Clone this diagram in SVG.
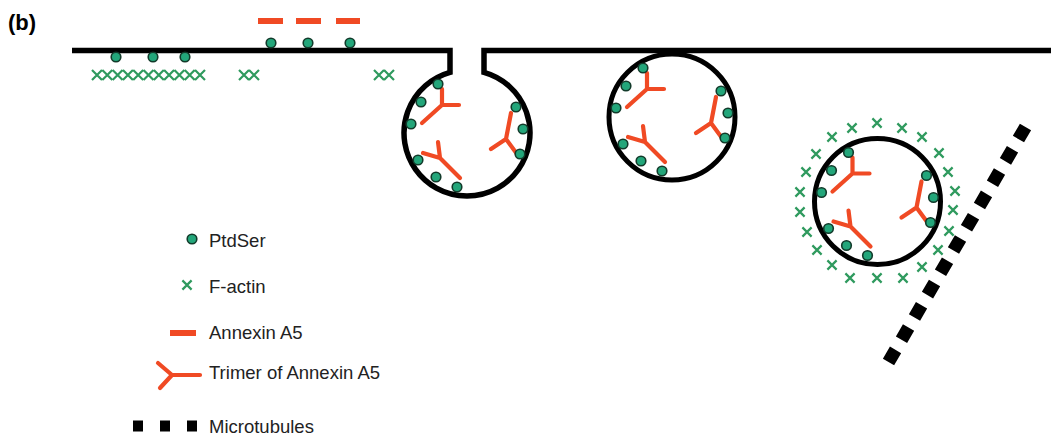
<svg xmlns="http://www.w3.org/2000/svg" xmlns:xlink="http://www.w3.org/1999/xlink" width="1051" height="437" viewBox="0 0 1051 437">
  <style>
    .membrane { fill: none; stroke: #000; stroke-width: 5.5; stroke-linejoin: miter; }
    .vesicle { fill: none; stroke: #000; stroke-width: 5; }
    .ptdser { fill: #23a67a; stroke: #123a2a; stroke-width: 1.6; }
    .actin { fill: none; stroke: #2f9a5e; stroke-width: 2.2; }
    .anx { stroke: #f04a24; stroke-width: 6; fill: none; }
    .trimer { fill: none; stroke: #f04a24; stroke-width: 4.2; stroke-linecap: round; stroke-linejoin: round; }
    .mt { fill: none; stroke: #000; stroke-width: 13; stroke-dasharray: 14 11.8; }
    .label { font-family: "Liberation Sans", Arial, sans-serif; font-size: 18.5px; fill: #222; }
    .panel { font-family: "Liberation Sans", Arial, sans-serif; font-size: 22px; font-weight: bold; fill: #000; }
  </style>
  <defs>
    <path id="x-small" class="actin" d="M-4.6,-4.6 L4.6,4.6 M-4.6,4.6 L4.6,-4.6"/>
    <path id="x-chain" class="actin" d="M-5,-5 L5,5 M-5,5 L5,-5"/>
    <!-- PtdSer on the inner leaflet and bound annexin trimers, relative to vesicle centre -->
    <g id="cargo">
      <g class="trimer">
        <path d="M-25,-44 L-25,-28 L-8,-28 M-25,-28 L-45,-10"/>
        <path d="M-29,9 L-27,25 L-44,20 M-27,25 L-7,45"/>
        <path d="M50,21 L39,6 L24,16 M39,6 L44,-20"/>
      </g>
      <circle class="ptdser" cx="-29" cy="-49" r="4.8"/>
      <circle class="ptdser" cx="-46" cy="-31" r="4.8"/>
      <circle class="ptdser" cx="-56" cy="-9" r="4.8"/>
      <circle class="ptdser" cx="-49" cy="27" r="4.8"/>
      <circle class="ptdser" cx="-31" cy="44" r="4.8"/>
      <circle class="ptdser" cx="-10" cy="54" r="4.8"/>
      <circle class="ptdser" cx="49" cy="-26" r="4.8"/>
      <circle class="ptdser" cx="56" cy="-4" r="4.8"/>
      <circle class="ptdser" cx="53" cy="21" r="4.8"/>
    </g>
  </defs>

  <rect width="1051" height="437" fill="#fff"/>

  <text class="panel" x="8" y="30">(b)</text>

  <!-- plasma membrane with the fusing vesicle opening -->
  <g id="plasma-membrane">
    <path class="membrane" d="M72,50.5 H450 V72.3 A63,63 0 1 0 484,72.3 V50.5 H1051"/>
    <circle class="ptdser" cx="271" cy="43" r="4.8"/>
    <circle class="ptdser" cx="308" cy="43" r="4.8"/>
    <circle class="ptdser" cx="350" cy="43" r="4.8"/>
    <circle class="ptdser" cx="116" cy="57" r="4.8"/>
    <circle class="ptdser" cx="153" cy="57" r="4.8"/>
    <circle class="ptdser" cx="185" cy="57" r="4.8"/>
    <line class="anx" x1="258" y1="21" x2="283" y2="21"/>
    <line class="anx" x1="296" y1="21" x2="321" y2="21"/>
    <line class="anx" x1="336" y1="21" x2="360" y2="21"/>
  </g>

  <!-- cortical actin under the membrane -->
  <g id="cortical-actin">
    <use href="#x-chain" x="97" y="75"/>
    <use href="#x-chain" x="107.3" y="75"/>
    <use href="#x-chain" x="117.6" y="75"/>
    <use href="#x-chain" x="127.9" y="75"/>
    <use href="#x-chain" x="138.2" y="75"/>
    <use href="#x-chain" x="148.5" y="75"/>
    <use href="#x-chain" x="158.8" y="75"/>
    <use href="#x-chain" x="169.1" y="75"/>
    <use href="#x-chain" x="179.4" y="75"/>
    <use href="#x-chain" x="189.7" y="75"/>
    <use href="#x-chain" x="200" y="75"/>
    <use href="#x-chain" x="244" y="75"/>
    <use href="#x-chain" x="254" y="75"/>
    <use href="#x-chain" x="379" y="75"/>
    <use href="#x-chain" x="389" y="75"/>
  </g>

  <!-- vesicle fusing with the membrane -->
  <g id="vesicle-fusing">
    <use href="#cargo" transform="translate(467,133)"/>
  </g>

  <!-- vesicle docked under the membrane -->
  <g id="vesicle-docked">
    <circle class="vesicle" cx="672" cy="117" r="63"/>
    <use href="#cargo" transform="translate(672,117)"/>
  </g>

  <!-- vesicle caged by actin -->
  <g id="vesicle-caged">
    <circle class="vesicle" cx="877.5" cy="201.5" r="63"/>
    <use href="#cargo" transform="translate(877.5,201.5)"/>
    <g>
      <use href="#x-small" x="877" y="123"/>
      <use href="#x-small" x="902" y="128"/>
      <use href="#x-small" x="922" y="137"/>
      <use href="#x-small" x="939" y="153"/>
      <use href="#x-small" x="948" y="172"/>
      <use href="#x-small" x="955" y="191"/>
      <use href="#x-small" x="953" y="210"/>
      <use href="#x-small" x="949" y="231"/>
      <use href="#x-small" x="938" y="250"/>
      <use href="#x-small" x="922" y="267"/>
      <use href="#x-small" x="903" y="278"/>
      <use href="#x-small" x="877" y="278"/>
      <use href="#x-small" x="850" y="278"/>
      <use href="#x-small" x="832" y="265"/>
      <use href="#x-small" x="817" y="250"/>
      <use href="#x-small" x="807" y="232"/>
      <use href="#x-small" x="800" y="212"/>
      <use href="#x-small" x="800" y="192"/>
      <use href="#x-small" x="806" y="172"/>
      <use href="#x-small" x="816" y="154"/>
      <use href="#x-small" x="832" y="137"/>
      <use href="#x-small" x="852" y="128"/>
    </g>
  </g>

  <!-- microtubule track -->
  <g id="microtubule">
    <line class="mt" x1="1025.5" y1="127" x2="888.5" y2="362"/>
  </g>

  <!-- legend -->
  <g id="legend">
    <circle class="ptdser" cx="192" cy="239" r="4.8"/>
    <text class="label" x="209" y="246.5">PtdSer</text>
    <use href="#x-small" x="187" y="285"/>
    <text class="label" x="209" y="292.5">F-actin</text>
    <line class="anx" x1="170" y1="333" x2="196" y2="333"/>
    <text class="label" x="209" y="339">Annexin A5</text>
    <path class="trimer" d="M158,363 L172,375 L160,388 M172,375 L200,375"/>
    <text class="label" x="209" y="379">Trimer of Annexin A5</text>
    <rect x="133" y="420.5" width="10" height="11" fill="#000"/>
    <rect x="160" y="420.5" width="10" height="11" fill="#000"/>
    <rect x="187" y="420.5" width="10" height="11" fill="#000"/>
    <text class="label" x="209" y="432.5">Microtubules</text>
  </g>
</svg>
